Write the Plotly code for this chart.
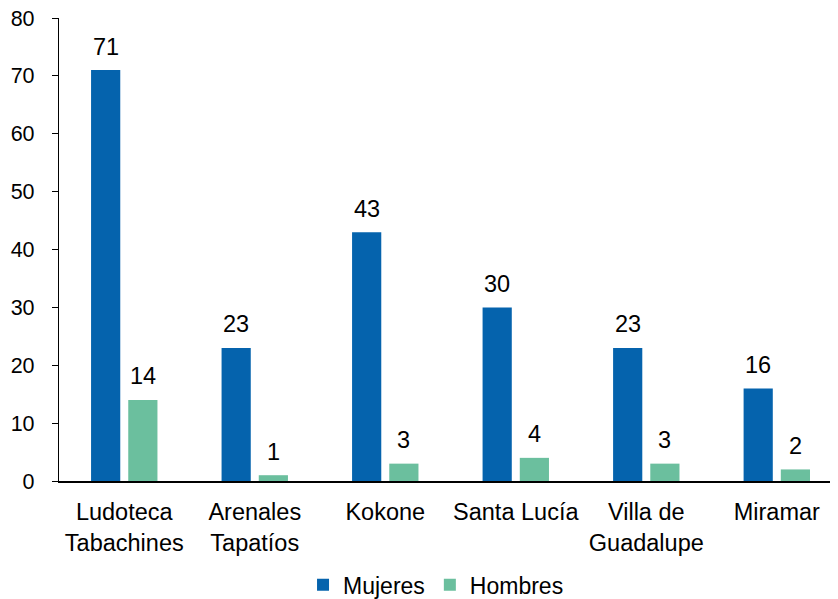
import plotly.graph_objects as go

categories = ["Ludoteca<br>Tabachines", "Arenales<br>Tapatíos", "Kokone", "Santa Lucía", "Villa de<br>Guadalupe", "Miramar"]
mujeres = [71, 23, 43, 30, 23, 16]
hombres = [14, 1, 3, 4, 3, 2]
y_ticks = [0, 10, 20, 30, 40, 50, 60, 70, 80]

FAM = "Liberation Sans, Arial, sans-serif"
font = dict(family=FAM, size=23.5, color="black")
tickfont_y = dict(family=FAM, size=21.5, color="black")

W, H = 830, 591
ML, MR, MT, MB = 51, 0, 10, 118
x_range = [-0.5, 5.469]
bargap, bargroupgap = 0.43, 0.215
colors = ["#0563AD", "#6BBF9E"]
series = [("Mujeres", mujeres), ("Hombres", hombres)]

fig = go.Figure()
for (name, vals), col in zip(series, colors):
    fig.add_trace(go.Bar(x=categories, y=vals, name=name, marker_color=col,
                         marker_line_width=0))

# value labels (annotations placed on the data, shifted to each bar of the group)
plot_w = W - ML - MR
cat_px = plot_w / (x_range[1] - x_range[0])
slot_px = cat_px * (1 - bargap) / len(series)
for i, (name, vals) in enumerate(series):
    xs = (i - (len(series) - 1) / 2) * slot_px
    for c, v in zip(categories, vals):
        fig.add_annotation(x=c, y=v, text=str(v), showarrow=False, xref="x", yref="y",
                           xshift=xs, yshift=23.5, yanchor="middle", font=font)

fig.update_layout(
    width=W, height=H,
    margin=dict(l=ML, r=MR, t=MT, b=MB, autoexpand=False),
    paper_bgcolor="white", plot_bgcolor="white",
    font=font,
    barmode="group", bargap=bargap, bargroupgap=bargroupgap,
    showlegend=True,
    legend=dict(orientation="h", xref="paper", xanchor="center", x=0.484,
                yref="container", yanchor="middle", y=0.024,
                font=dict(family=FAM, size=23, color="black"), tracegroupgap=0),
    xaxis=dict(range=x_range, showline=True, linecolor="black", linewidth=1.5, ticks="",
               tickfont=font, showgrid=False, automargin=False, ticklabelstandoff=9),
    yaxis=dict(range=[0, 80], tickvals=y_ticks, showline=True, linecolor="black", linewidth=1.25,
               ticks="outside", ticklen=6, tickcolor="black", tickwidth=1.25, showgrid=False,
               zeroline=False, tickfont=tickfont_y, automargin=False, ticklabelstandoff=13,
               ticklabeloverflow="allow"),
)

fig.write_html("out.html")
